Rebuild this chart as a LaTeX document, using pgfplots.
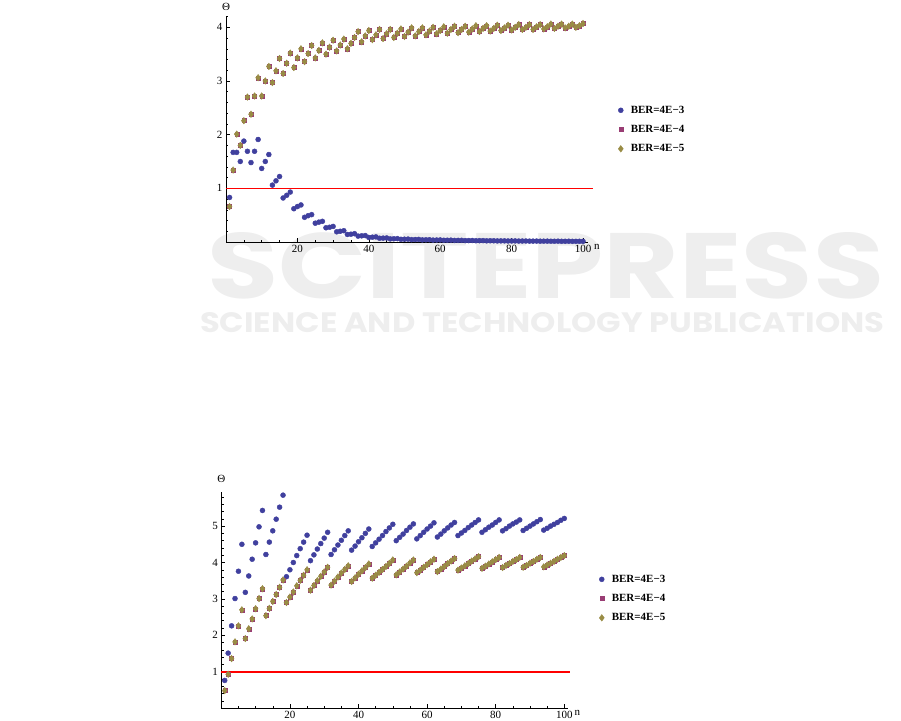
\documentclass[border=0pt]{standalone}
\usepackage{fontspec}
\setmainfont{Liberation Serif}
\newfontfamily\wmfont{Poppins}
\usepackage{graphicx}
\usepackage{pgfplots}
\usepackage{pgfplotstable}
\pgfplotsset{compat=1.18}
\definecolor{mblue}{rgb}{0.25,0.25,0.62}
\definecolor{mpurple}{rgb}{0.6,0.24,0.456}
\definecolor{mgold}{rgb}{0.6,0.55,0.27}
\definecolor{wm}{gray}{0.935}

% ---------- top chart ----------
\pgfplotstableread{
n v
1 0.83
2 1.67
3 1.67
4 1.50
5 1.88
6 1.69
7 1.48
8 1.69
9 1.91
10 1.37
11 1.50
12 1.63
13 1.06
14 1.14
15 1.22
16 0.82
17 0.87
18 0.93
19 0.62
20 0.66
21 0.69
22 0.46
23 0.49
24 0.51
25 0.35
26 0.37
27 0.385
28 0.265
29 0.275
30 0.29
31 0.19
32 0.20
33 0.21
34 0.14
35 0.145
36 0.155
37 0.11
38 0.115
39 0.12
40 0.085
41 0.09
42 0.095
43 0.07
44 0.072
45 0.075
46 0.058
47 0.06
48 0.063
49 0.05
50 0.052
51 0.054
52 0.044
53 0.046
54 0.048
55 0.039
56 0.041
57 0.042
58 0.035
59 0.037
60 0.038
61 0.032
62 0.033
63 0.034
64 0.029
65 0.030
66 0.031
67 0.026
68 0.027
69 0.028
70 0.024
71 0.025
72 0.026
73 0.022
74 0.023
75 0.023
76 0.020
77 0.021
78 0.021
79 0.019
80 0.019
81 0.020
82 0.017
83 0.018
84 0.018
85 0.016
86 0.016
87 0.017
88 0.015
89 0.015
90 0.016
91 0.014
92 0.014
93 0.015
94 0.013
95 0.013
96 0.014
97 0.012
98 0.012
99 0.013
100 0.012
}\topB

\pgfplotstableread{
n v
1 0.66
2 1.34
3 2.01
4 1.80
5 2.26
6 2.70
7 2.38
8 2.72
9 3.06
10 2.72
11 3.00
12 3.27
13 2.97
14 3.19
15 3.42
16 3.14
17 3.33
18 3.52
19 3.25
20 3.43
21 3.60
22 3.36
23 3.51
24 3.66
25 3.43
26 3.57
27 3.71
28 3.50
29 3.63
30 3.76
31 3.56
32 3.67
33 3.78
34 3.60
35 3.70
36 3.81
37 3.92
38 3.73
39 3.84
40 3.94
41 3.77
42 3.86
43 3.96
44 3.79
45 3.88
46 3.96
47 3.81
48 3.89
49 3.97
50 3.83
51 3.91
52 3.99
53 3.84
54 3.92
55 3.99
56 3.86
57 3.93
58 4.00
59 3.88
60 3.94
61 4.01
62 3.89
63 3.96
64 4.02
65 3.90
66 3.96
67 4.02
68 3.91
69 3.97
70 4.03
71 3.92
72 3.98
73 4.03
74 3.93
75 3.98
76 4.04
77 3.94
78 3.99
79 4.04
80 3.95
81 4.00
82 4.05
83 3.96
84 4.00
85 4.05
86 3.96
87 4.01
88 4.05
89 3.97
90 4.01
91 4.06
92 3.98
93 4.02
94 4.06
95 3.99
96 4.02
97 4.06
98 4.00
99 4.03
100 4.07
}\topG

% ---------- bottom chart ----------
\pgfplotstableread{
n v
1 0.76
2 1.51
3 2.26
4 3.01
5 3.76
6 4.50
7 3.18
8 3.63
9 4.09
10 4.54
11 4.98
12 5.43
13 4.22
14 4.56
15 4.87
16 5.19
17 5.52
18 5.85
19 3.61
20 3.80
21 4.00
22 4.19
23 4.38
24 4.56
25 4.75
26 4.05
27 4.21
28 4.37
29 4.52
30 4.67
31 4.83
32 4.22
33 4.35
34 4.48
35 4.61
36 4.74
37 4.87
38 4.34
39 4.45
40 4.57
41 4.68
42 4.80
43 4.92
44 4.44
45 4.54
46 4.64
47 4.74
48 4.85
49 4.95
50 5.05
51 4.60
52 4.69
53 4.78
54 4.88
55 4.97
56 5.06
57 4.65
58 4.74
59 4.83
60 4.92
61 5.00
62 5.09
63 4.70
64 4.78
65 4.87
66 4.95
67 5.03
68 5.10
69 4.74
70 4.81
71 4.88
72 4.96
73 5.03
74 5.10
75 5.17
76 4.83
77 4.90
78 4.97
79 5.03
80 5.10
81 5.17
82 4.87
83 4.93
84 5.00
85 5.06
86 5.11
87 5.17
88 4.88
89 4.94
90 5.00
91 5.06
92 5.12
93 5.18
94 4.89
95 4.94
96 5.00
97 5.05
98 5.10
99 5.16
100 5.21
}\botB

\pgfplotstableread{
n v
1 0.48
2 0.93
3 1.36
4 1.82
5 2.26
6 2.70
7 1.91
8 2.18
9 2.45
10 2.73
11 3.01
12 3.28
13 2.54
14 2.74
15 2.93
16 3.12
17 3.32
18 3.52
19 2.90
20 3.05
21 3.19
22 3.36
23 3.51
24 3.65
25 3.80
26 3.24
27 3.37
28 3.50
29 3.62
30 3.74
31 3.87
32 3.38
33 3.49
34 3.60
35 3.71
36 3.81
37 3.91
38 3.48
39 3.58
40 3.68
41 3.77
42 3.86
43 3.96
44 3.57
45 3.65
46 3.73
47 3.81
48 3.89
49 3.98
50 4.07
51 3.66
52 3.74
53 3.82
54 3.90
55 3.99
56 4.07
57 3.72
58 3.79
59 3.87
60 3.94
61 4.02
62 4.09
63 3.75
64 3.82
65 3.89
66 3.97
67 4.04
68 4.11
69 3.79
70 3.85
71 3.91
72 3.97
73 4.04
74 4.10
75 4.16
76 3.84
77 3.90
78 3.96
79 4.02
80 4.08
81 4.14
82 3.86
83 3.92
84 3.97
85 4.03
86 4.08
87 4.14
88 3.87
89 3.92
90 3.98
91 4.03
92 4.09
93 4.14
94 3.88
95 3.93
96 3.98
97 4.03
98 4.09
99 4.14
100 4.19
}\botG

\pgfplotsset{mstyle/.style={
  axis x line=bottom, axis y line=left,
  axis line style={-, line width=0.6pt},
  xmin=0, ymin=0, clip=false,
  tick align=inside,
  major tick length=4pt, minor tick length=2.2pt,
  tick style={line width=0.5pt, black},
  xtick={20,40,60,80,100},
  minor xtick={5,10,15,25,30,35,45,50,55,65,70,75,85,90,95},
  tick label style={font=\fontsize{11}{13}\selectfont},
  /pgf/number format/assume math mode=true,
  xlabel={n}, ylabel={Θ},
  label style={font=\fontsize{11}{13}\selectfont},
  x label style={at={(axis description cs:1,0)}, anchor=west, inner sep=0pt, xshift=6pt, yshift=-5pt},
  legend cell align=left,
  legend style={draw=none, fill=none, font=\bfseries\fontsize{11}{13}\selectfont, anchor=north west, row sep=6.5pt, inner sep=0pt},
  legend image code/.code={\path[draw=none,fill=none] (0pt,0pt) -- (12pt,0pt); \draw[mark repeat=2,mark phase=2] plot coordinates {(0pt,0pt)(4pt,0pt)(8pt,0pt)};},
  bmark/.style={only marks, mark=*, mark size=2.5pt, color=mblue, mark options={draw=mblue, fill=mblue}},
  pmark/.style={only marks, mark=square*, mark size=2.0pt, color=mpurple, mark options={draw=mpurple, fill=mpurple}},
  gmark/.style={only marks, mark=diamond*, mark size=3.3pt, color=mgold, mark options={draw=mgold, fill=mgold}},
}}

\begin{document}
\begin{tikzpicture}
% watermark
\node[anchor=south west, inner sep=0pt, text=wm] at (207pt,421pt) {\resizebox{677pt}{66pt}{\wmfont\bfseries SCITEPRESS}};
\node[anchor=south west, inner sep=0pt, text=wm] at (200pt,387pt) {\resizebox{684pt}{20pt}{\wmfont\bfseries SCIENCE AND TECHNOLOGY PUBLICATIONS}};

% top axis
\begin{axis}[mstyle, at={(226pt,478pt)}, anchor=south west,
  x=3.57pt, y=53.67pt, xmax=101.4, ymax=4.21,
  ytick={1,2,3,4},
  minor ytick={0.2,0.4,0.6,0.8,1.2,1.4,1.6,1.8,2.2,2.4,2.6,2.8,3.2,3.4,3.6,3.8,4.2},
  y label style={at={(axis description cs:0,1)}, rotate=-90, anchor=south, inner sep=0pt, yshift=5pt},
  legend style={at={(1.079,0.612)}}]
\addplot[red, line width=1pt, forget plot] coordinates {(0,1) (102.7,1)};
\addplot[bmark] table[x=n,y=v]{\topB};
\addplot[pmark] table[x=n,y=v]{\topG};
\addplot[gmark] table[x=n,y=v]{\topG};
\legend{BER=4E−3, BER=4E−4, BER=4E−5}
\end{axis}

% bottom axis
\begin{axis}[mstyle, at={(221.3pt,11.9pt)}, anchor=south west,
  x=3.43pt, y=36.4pt, xmax=101.2, ymax=5.94,
  ytick={1,2,3,4,5},
  minor ytick={0.2,0.4,0.6,0.8,1.2,1.4,1.6,1.8,2.2,2.4,2.6,2.8,3.2,3.4,3.6,3.8,4.2,4.4,4.6,4.8,5.2,5.4,5.6,5.8},
  y label style={at={(axis description cs:0,1)}, rotate=-90, anchor=south, inner sep=0pt, yshift=9pt},
  legend style={at={(1.084,0.626)}}]
\addplot[red, line width=2.2pt, forget plot] coordinates {(0,1) (101.7,1)};
\addplot[bmark] table[x=n,y=v]{\botB};
\addplot[pmark] table[x=n,y=v]{\botG};
\addplot[gmark] table[x=n,y=v]{\botG};
\legend{BER=4E−3, BER=4E−4, BER=4E−5}
\end{axis}

\pgfresetboundingbox
\useasboundingbox (0pt,0pt) rectangle (901pt,720pt);
\end{tikzpicture}
\end{document}
